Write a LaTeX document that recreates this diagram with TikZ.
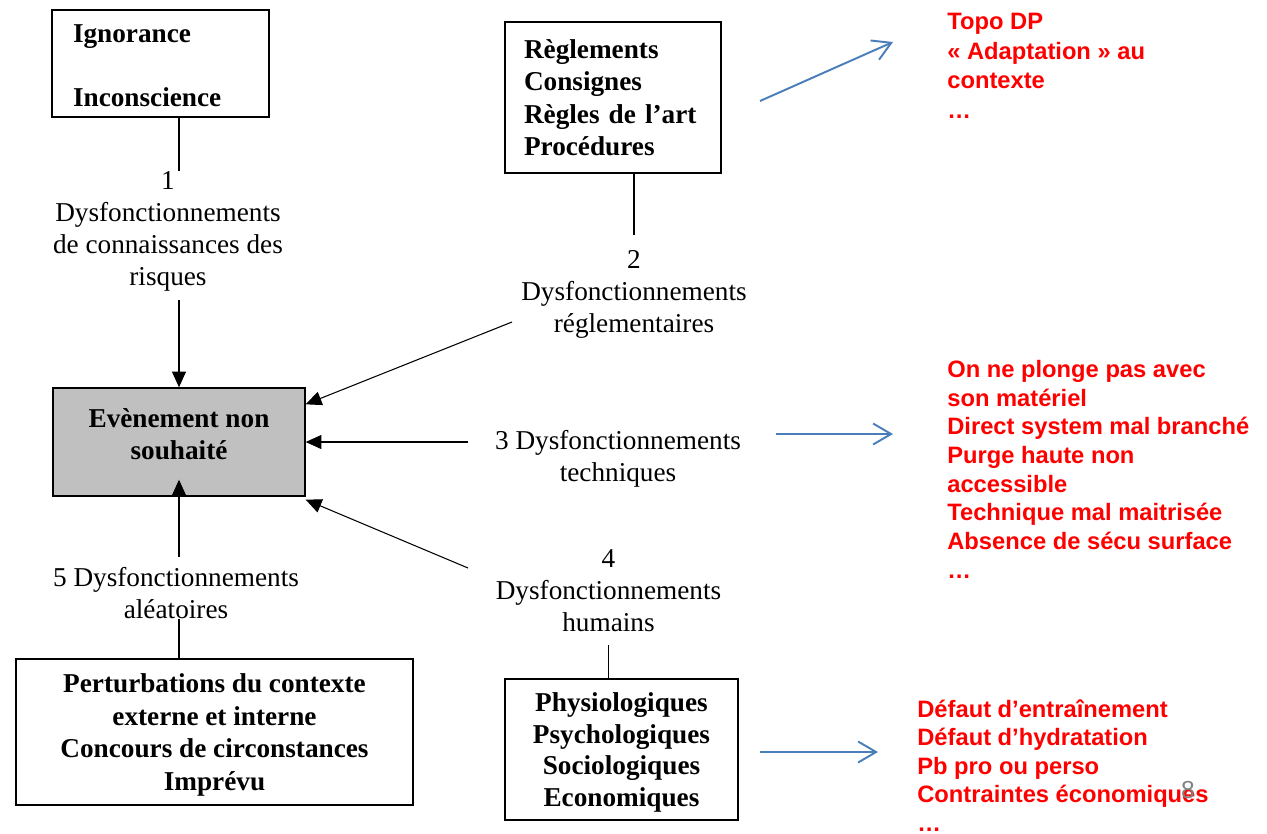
\documentclass[tikz,border=0pt]{standalone}
\usepackage{fontspec}
\setmainfont{Liberation Serif}
\newfontfamily\notefont{Liberation Sans}
\usetikzlibrary{arrows.meta}
\definecolor{notered}{RGB}{255,0,0}
\definecolor{noteblue}{RGB}{74,126,187}
\definecolor{pagegray}{RGB}{128,128,128}
\definecolor{evgray}{RGB}{192,192,192}
\tikzset{
	box/.style={
		draw,
		line width=0.8pt,
		inner sep=0pt,
		font=\fontsize{15.5}{18.5}\selectfont\bfseries
	},
	cause/.style={
		align=center,
		inner sep=0pt,
		font=\fontsize{15.5}{18.2}\selectfont
	},
	note/.style={
		anchor=north west,
		align=left,
		inner sep=0pt,
		text=notered,
		font=\notefont\fontsize{13.5}{16.3}\selectfont\bfseries
	},
	link/.style={line width=0.6pt},
	arr/.style={link, ->, >={Triangle[length=9pt, width=8pt]}},
	hint/.style={draw=noteblue, line width=1.1pt, ->, >={Straight Barb[length=0.36cm, width=0.42cm]}}
}

\begin{document}
\begin{tikzpicture}[x=0.02cm, y=-0.02cm]
\useasboundingbox (0,0) rectangle (1267,833);

% boxes
\node[box, minimum width=4.34cm, minimum height=2.14cm, text width=3.5cm, align=left, text height=13pt] (ign) at (160.5,63.5) {Ignorance\\[18pt]Inconscience};
\node[box, minimum width=4.32cm, minimum height=3.02cm, text width=3.56cm, align=left] (reg) at (613,97.5) {Règlements\\Consignes\\Règles de l’art\\Procédures};
\node[box, fill=evgray, minimum width=5.04cm, minimum height=2.16cm, align=center, text depth=9pt] (ev) at (179,442) {Evènement non\\souhaité};
\node[box, minimum width=7.94cm, minimum height=2.92cm, align=center, text depth=-1pt] (pert) at (214.5,732) {Perturbations du contexte\\externe et interne\\Concours de circonstances\\Imprévu};
\node[box, minimum width=4.66cm, minimum height=2.82cm, align=center, text depth=-2.5pt, font=\fontsize{15.5}{18.1}\selectfont\bfseries] (phys) at (621.5,749.5) {Physiologiques\\Psychologiques\\Sociologiques\\Economiques};

% causes
\node[cause] (lab1) at (168,231) {1\\Dysfonctionnements\\de connaissances des\\risques};
\node[cause] (lab2) at (634,294) {2\\Dysfonctionnements\\réglementaires};
\node[cause] (lab3) at (618,459) {3 Dysfonctionnements\\techniques};
\node[cause] (lab4) at (608.5,591) {4\\Dysfonctionnements\\humains};
\node[cause] (lab5) at (176,593) {5 Dysfonctionnements\\aléatoires};

\coordinate (t2) at (512,322);
\coordinate (t3) at (468,442);
\coordinate (t4) at (468,568);

\draw[link] (ign.south -| ev) -- (lab1.north -| ev);
\draw[arr, shorten <=0.18cm] (lab1.south -| ev) -- (ev.north);
\draw[link, shorten >=0.3cm] (reg.south -| lab2) -- (lab2.north);
\draw[arr] (t2) -- ([yshift=-0.34cm]ev.north east);
\draw[arr] (t3) -- (t3 -| ev.east);
\draw[arr] (t4) -- ([yshift=-0.06cm]ev.south east);
\draw[arr, shorten <=0.2cm, shorten >=-0.34cm] (lab5.north -| ev) -- (ev.south);
\draw[link] (lab5.south -| ev) -- (pert.north -| ev);
\draw[link, shorten <=0.25cm] (lab4.south) -- (lab4.south |- phys.north);

% notes
\node[note, font=\notefont\fontsize{13.5}{16.8}\selectfont\bfseries] (notetop) at (947,13) {Topo DP\\« Adaptation » au\\contexte\\…};
\node[note] (notemid) at (947,360) {On ne plonge pas avec\\son matériel\\Direct system mal branché\\Purge haute non\\accessible\\Technique mal maitrisée\\Absence de sécu surface\\…};
\node[note] (notebot) at (917,699) {Défaut d’entraînement\\Défaut d’hydratation\\Pb pro ou perso\\Contraintes économiques\\…};

\coordinate (hs1) at (760,101); \coordinate (he1) at (893,42);
\coordinate (hs2) at (776,434); \coordinate (he2) at (893,434);
\coordinate (hs3) at (760,752); \coordinate (he3) at (878,752);
\foreach \i in {1, 2, 3} {
	\draw[hint] (hs\i) -- (he\i);
}

\node[text=pagegray, inner sep=0pt, font=\notefont\fontsize{14}{16}\selectfont] (pagenum) at (1188,790) {8};
\end{tikzpicture}
\end{document}
